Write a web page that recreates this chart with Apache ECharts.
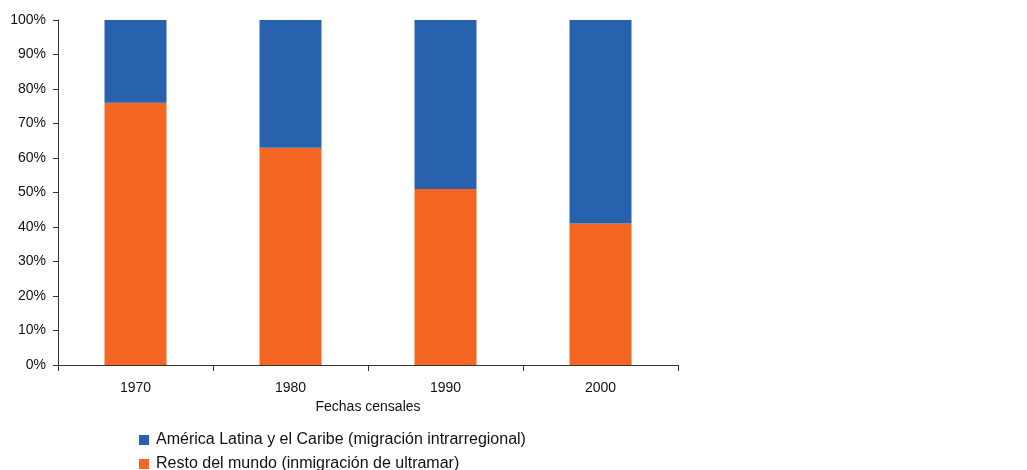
<!DOCTYPE html>
<html>
<head>
<meta charset="utf-8">
<script src="https://cdn.jsdelivr.net/npm/echarts@6/dist/echarts.min.js"></script>
<style>html,body{margin:0;padding:0;background:#fff}#c{width:1027px;height:470px}</style>
</head>
<body>
<div id="c"></div>
<script>
var categories = ['1970', '1980', '1990', '2000'];
var restoMundo = [76, 63, 51, 41];
var americaLatina = [24, 37, 49, 59];
var seriesNames = ['América Latina y el Caribe (migración intrarregional)', 'Resto del mundo (inmigración de ultramar)'];

var chart = echarts.init(document.getElementById('c'));
var font = 'Liberation Sans, Arial, Helvetica, sans-serif';
function legendAt(name, top) {
  return {
    orient: 'vertical', left: 139, top: top, padding: 0,
    itemWidth: 10, itemHeight: 10, itemGap: 0,
    icon: 'rect',
    data: [name],
    textStyle: {fontSize: 16, color: '#111', fontFamily: font, padding: [0, 0, 0, 2]}
  };
}
chart.setOption({
  animation: false,
  textStyle: {fontFamily: font},
  grid: {left: 58, right: 349, top: 20, bottom: 105, containLabel: false},
  legend: [legendAt(seriesNames[0], 432), legendAt(seriesNames[1], 456)],
  xAxis: {
    type: 'category', data: categories,
    name: 'Fechas censales', nameLocation: 'middle', nameGap: 33,
    nameTextStyle: {fontSize: 14, color: '#111', fontFamily: font},
    axisLine: {lineStyle: {color: '#333', width: 1}},
    axisTick: {show: true, length: 6, interval: 0, alignWithLabel: false, lineStyle: {color: '#333'}},
    axisLabel: {fontSize: 14, color: '#111', margin: 16, fontFamily: font}
  },
  yAxis: {
    type: 'value', min: 0, max: 100, interval: 10,
    axisLine: {show: true, lineStyle: {color: '#333', width: 1}},
    axisTick: {show: true, length: 5, lineStyle: {color: '#333'}},
    splitLine: {show: false},
    axisLabel: {formatter: '{value}%', fontSize: 14, color: '#111', margin: 12, fontFamily: font}
  },
  series: [
    {name: seriesNames[1], type: 'bar', stack: 't', data: restoMundo, barWidth: '40%', itemStyle: {color: '#F46723'}},
    {name: seriesNames[0], type: 'bar', stack: 't', data: americaLatina, barWidth: '40%', itemStyle: {color: '#2862AE'}}
  ]
});
</script>
</body>
</html>
